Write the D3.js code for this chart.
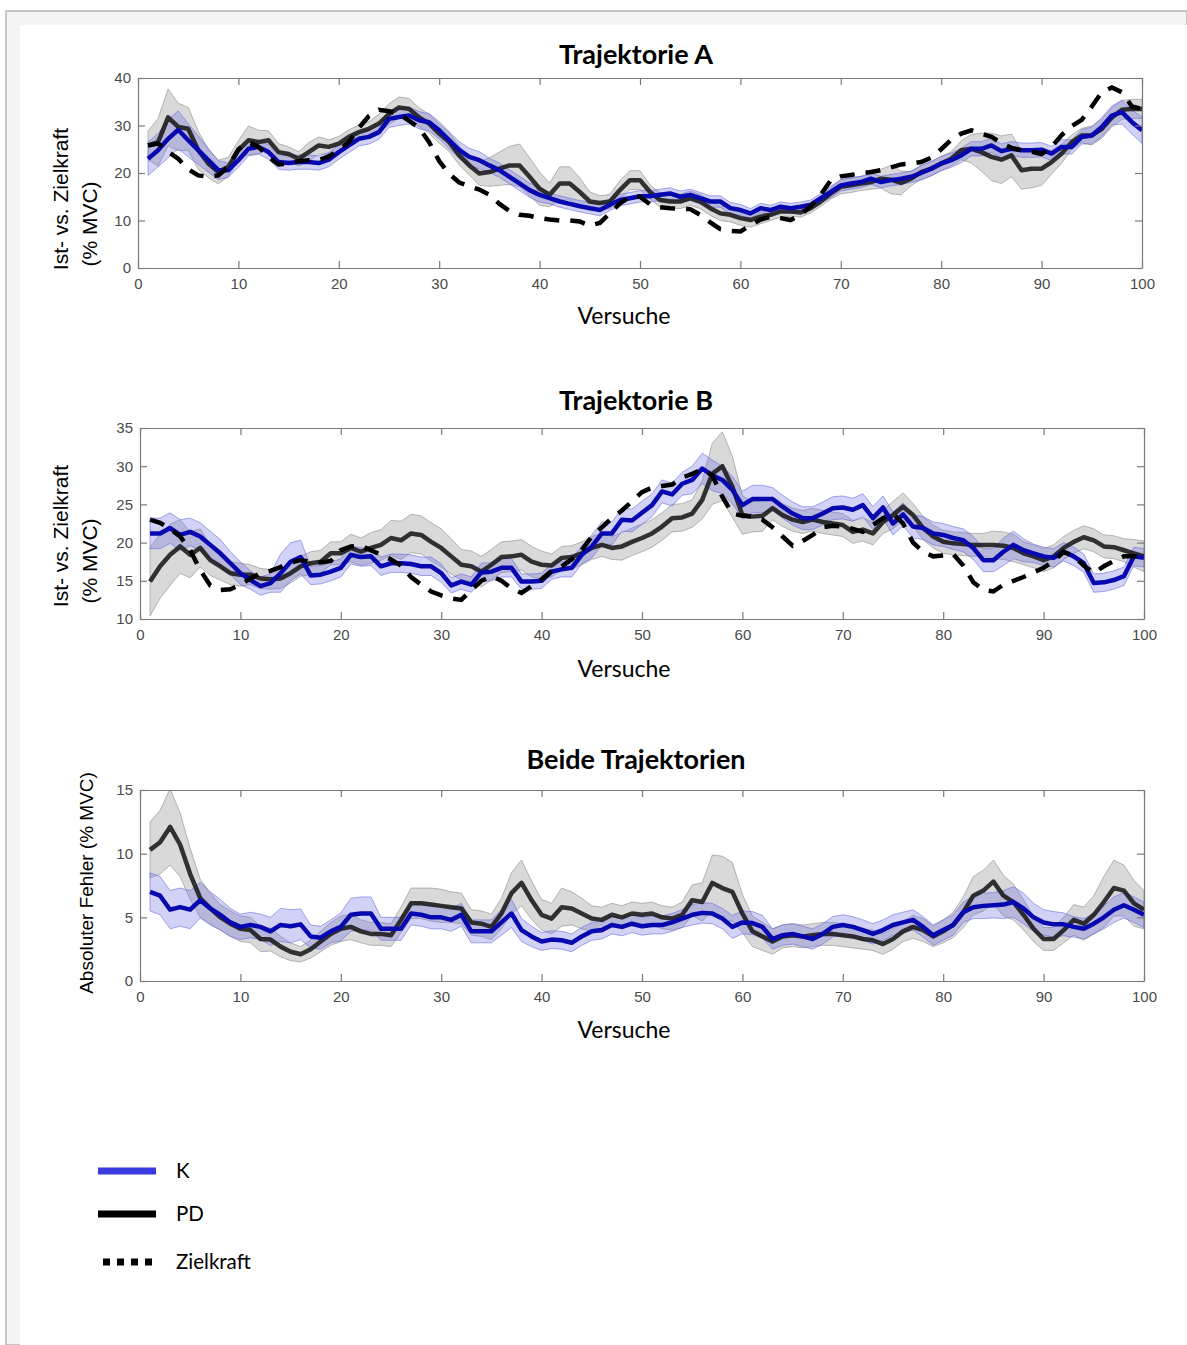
<!DOCTYPE html>
<html>
<head>
<meta charset="utf-8">
<script src="https://cdn.jsdelivr.net/npm/d3@7"></script>
<style>
  body { margin: 0; background: #fff; }
  svg { display: block; }
</style>
</head>
<body>
<div id="chart"></div>
<script>
// Trials 1..100 on the x axis
const trials = d3.range(1, 101);
const xTicks = [0, 10, 20, 30, 40, 50, 60, 70, 80, 90, 100];

// Trajektorie A
const aK = [23, 24.8, 27.2, 29.1, 26.9, 24.8, 22.7, 20.6, 20.6, 22.7,
  25.1, 25.5, 24.4, 22.3, 22.1, 22.3, 22.3, 22.1, 22.8, 24.4,
  25.8, 27.2, 27.6, 28.6, 31.4, 31.8, 32.1, 31.1, 30.7, 29,
  26.9, 24.8, 23.4, 22.7, 21.6, 20.6, 19.2, 17.8, 16.4, 15.4,
  14.7, 14, 13.5, 13, 12.6, 12.2, 13.3, 14.3, 14.7, 15.1,
  15.1, 15.4, 15.7, 15, 15.4, 14.7, 14, 14, 12.6, 12.2,
  11.5, 12.6, 12.2, 12.9, 12.6, 12.9, 13.3, 14.7, 16, 17.4,
  17.8, 18.1, 18.8, 18.1, 18.5, 18.8, 19.2, 20, 20.9, 22,
  22.7, 23.7, 25.1, 25.1, 25.8, 24.6, 25.1, 24.8, 24.8, 24.9,
  24.1, 25.5, 25.5, 27.6, 27.9, 29.7, 32.1, 32.8, 30.7, 29];
const aKsd = [3.5, 3.5, 4, 4, 3.5, 3, 2.5, 2, 1.5, 1.5,
  1.5, 1.5, 1.5, 1.5, 1.5, 1.5, 1.5, 1.5, 1.5, 1.5,
  1.5, 1.5, 1.5, 1.5, 1.8, 1.8, 1.8, 1.8, 1.8, 1.8,
  1.8, 1.8, 1.8, 1.8, 1.5, 1.5, 1.5, 1.5, 1.5, 1.5,
  1.2, 1.2, 1.2, 1.2, 1.2, 1.2, 1.2, 1.2, 1.2, 1.2,
  1.2, 1.2, 1.2, 1.2, 1.2, 1.2, 1.2, 1.2, 1.2, 1.2,
  1, 1, 1, 1, 1, 1, 1, 1, 1.2, 1.2,
  1.2, 1.2, 1.2, 1.2, 1.2, 1.2, 1.2, 1.5, 1.5, 1.5,
  1.5, 1.5, 1.5, 1.5, 1.5, 1.5, 1.5, 1.5, 1.5, 1.5,
  1.5, 1.5, 1.5, 1.5, 1.8, 2, 2, 2.5, 2.5, 2.8];
const aPD = [25.8, 26.5, 31.7, 29.7, 29.3, 24.8, 22, 20.2, 21.3, 24.8,
  26.9, 26.5, 26.9, 24.4, 24, 23, 24.4, 25.8, 25.5, 26.2,
  27.6, 28.6, 29.3, 30.4, 32.4, 33.8, 33.5, 31.7, 30.4, 28.3,
  26.5, 23.7, 21.6, 19.9, 20.2, 20.9, 21.6, 21.6, 19.2, 16.7,
  15.4, 17.8, 17.8, 16, 14, 13.7, 14, 16.4, 18.5, 18.5,
  16, 14.3, 14, 14, 14.7, 14, 12.6, 11.5, 11.2, 10.5,
  10.1, 10.8, 11.2, 11.9, 11.9, 11.7, 12.6, 14, 15.7, 17.1,
  17.4, 17.8, 18.1, 18.8, 18.6, 17.9, 18.8, 20.2, 20.9, 22,
  23, 24.8, 25.1, 24.4, 23.4, 22.8, 23.7, 20.6, 20.9, 20.9,
  22.3, 24.1, 26.5, 27.9, 27.9, 29.3, 31.7, 33.3, 33.5, 33.5];
const aPDsd = [3, 5, 6, 5, 4.5, 4, 3, 2.5, 2, 2,
  3, 2.5, 2, 1.8, 1.5, 1.5, 2, 1.8, 1.5, 1.5,
  1.5, 1.5, 1.5, 2, 2.2, 2.2, 2.2, 2, 2, 2,
  2, 2, 2, 2.5, 3, 3.5, 4, 4.5, 4, 3.5,
  2.5, 3.5, 3.5, 3, 2, 1.5, 1.5, 2, 2, 2,
  1.5, 1.5, 1.5, 1.5, 1.5, 1.5, 1.5, 1.5, 1.5, 1.5,
  1.5, 1.5, 1.2, 1.2, 1, 1, 1, 1, 1.2, 1.5,
  1.5, 1.5, 1.5, 2, 3, 2.5, 1.5, 1.5, 1.5, 1.5,
  1.5, 2, 3, 4, 5, 5, 4.5, 4, 4, 3.5,
  2.5, 2, 1.5, 1.5, 2, 2, 2, 2, 2, 2];
const aZiel = [25.8, 26.2, 24.5, 23, 20.8, 19.5, 19.2, 19.5, 21.3, 25,
  26.5, 25.5, 23.4, 21.8, 22, 22.5, 22.7, 22.7, 23.5, 24.8,
  26.5, 29.5, 32, 33.3, 33, 32.4, 31, 29.5, 26.5, 22.5,
  19.8, 18, 17.2, 16.5, 15.4, 13.5, 12, 11.2, 11, 10.5,
  10.2, 10, 10, 9.8, 8.9, 9.5, 11.5, 13.6, 15, 15,
  13.4, 12.8, 12.6, 12.5, 12.4, 11.2, 9.6, 8.2, 7.8, 7.7,
  9, 10.2, 10.8, 10.5, 10.1, 11.2, 13, 15.4, 18.5, 19.3,
  19.6, 19.9, 20.2, 20.6, 21.2, 21.8, 22, 22.3, 23.2, 25,
  27, 28.3, 29, 28.3, 27.6, 26.3, 25.3, 24.8, 24.5, 24,
  25.5, 28, 29.9, 31.2, 34, 37, 38, 37, 34, 33.5];

// Trajektorie B
const bK = [21.2, 21.2, 21.9, 21, 21.4, 20.8, 19.7, 18.6, 17.3, 16,
  15.1, 14.3, 14.7, 16, 17.5, 18.1, 15.7, 15.8, 16.2, 16.7,
  18.4, 18.1, 18.2, 16.9, 17.3, 17.3, 17.2, 16.9, 16.9, 16,
  14.4, 14.9, 14.5, 16.1, 16.2, 16.7, 16.7, 14.9, 14.9, 15,
  16.2, 16.5, 16.7, 18.4, 19.5, 21.2, 21.2, 23, 22.9, 23.9,
  24.9, 26.7, 26.3, 27.7, 28.2, 29.7, 28.8, 28.2, 26.9, 24.9,
  25.7, 25.7, 25.7, 24.7, 23.8, 23.2, 23.2, 23.8, 24.5, 24.6,
  24.3, 24.9, 23.2, 24.6, 22.5, 23.7, 22.1, 21.9, 21.2, 21,
  20.6, 20.3, 19.3, 17.7, 17.7, 18.8, 19.7, 19, 18.6, 18.2,
  18, 18.8, 18.2, 17.3, 14.7, 14.8, 15.1, 15.6, 18.2, 18];
const bKsd = [2, 2, 2, 2, 1.8, 1.8, 1.8, 1.8, 1.5, 1.5,
  1.2, 1.2, 1.2, 2.5, 2.5, 2.2, 1.2, 1.2, 1.2, 1.2,
  1.2, 1.2, 1.2, 1.2, 1.2, 1.2, 1.2, 1.2, 1.2, 1.2,
  1, 1, 1, 1.2, 1.2, 1.2, 1.2, 1, 1, 1,
  1, 1, 1.2, 1.2, 1.5, 1.5, 1.5, 1.5, 1.5, 1.5,
  1.5, 1.5, 1.5, 1.5, 1.8, 2, 2, 1.8, 1.8, 1.8,
  1.8, 1.8, 1.5, 1.5, 1.5, 1.5, 1.5, 1.5, 1.5, 1.5,
  1.5, 1.5, 1.5, 1.5, 1.5, 1.5, 1.5, 1.5, 1.5, 1.5,
  1.5, 1.5, 1.5, 1.5, 1.5, 1.8, 1.8, 1.5, 1.2, 1.2,
  1.2, 1.2, 1.2, 1.2, 1.2, 1.2, 1.2, 1.2, 1.2, 1.2];
const bPD = [14.9, 16.9, 18.4, 19.5, 18.4, 19.3, 17.7, 16.9, 16, 15.8,
  15.8, 15.3, 15.2, 15.3, 16, 16.9, 17.3, 17.5, 18.6, 18.6,
  19.3, 18.8, 19.3, 19.7, 20.6, 20.3, 21.2, 21, 20.1, 19.3,
  18.2, 17.1, 16.9, 16.2, 17.1, 18.1, 18.2, 18.4, 17.5, 17.1,
  17, 18, 18.1, 18.6, 19.3, 19.7, 19.3, 19.5, 20.1, 20.6,
  21.2, 22.1, 23.2, 23.3, 23.8, 25.6, 29, 30, 27.3, 23.6,
  23.4, 23.5, 24.5, 23.6, 23, 22.7, 23, 22.7, 22.5, 22.3,
  21.4, 21.7, 21.2, 22.7, 23.6, 24.7, 23.6, 21.9, 20.8, 20.1,
  19.9, 19.8, 19.7, 19.7, 19.7, 19.6, 19.3, 18.6, 18.2, 17.7,
  18.2, 19.3, 20.1, 20.7, 20.3, 19.5, 19.4, 19, 18.6, 18.2];
const bPDsd = [4.5, 4.2, 4, 3.5, 3, 2.5, 2, 1.8, 1.5, 1.5,
  1.3, 1.3, 1.3, 1.3, 1.3, 1.3, 1.5, 1.5, 1.5, 1.5,
  1.8, 1.8, 2, 2, 2.3, 2.5, 2.5, 2.5, 2.5, 2.5,
  2.3, 2, 2, 2, 2, 2, 2, 2, 2, 1.8,
  1.5, 1.5, 1.5, 1.5, 1.5, 1.5, 1.5, 1.8, 1.8, 1.8,
  1.8, 1.8, 1.8, 1.8, 1.8, 2.5, 4, 4.5, 4, 2.5,
  2, 2, 1.5, 1.5, 1.5, 1.5, 1.5, 1.5, 1.5, 1.5,
  1.5, 1.5, 1.5, 1.5, 1.8, 1.8, 1.5, 1.5, 1.5, 1.5,
  1.5, 1.5, 1.5, 1.5, 1.8, 1.8, 1.8, 1.5, 1.5, 1.5,
  1.5, 1.5, 1.5, 1.5, 1.5, 1.5, 1.5, 1.5, 1.8, 2];
const bZiel = [23, 22.6, 21.8, 20.8, 19, 16.4, 14.4, 13.8, 13.9, 14.5,
  15.3, 16, 16.3, 16.8, 17.4, 17.7, 17.5, 17.4, 17.6, 19,
  19.5, 19.6, 19, 18.4, 17.8, 17, 15.5, 14.5, 13.6, 13.1,
  12.7, 12.5, 13.8, 15, 15.6, 15, 14, 13.4, 14.3, 15.2,
  16.3, 16.9, 17.8, 19, 20.8, 22, 23.2, 24.2, 25.4, 26.6,
  27.2, 27.4, 27.6, 28.5, 29, 29.6, 28.8, 26, 23.8, 23.5,
  23.4, 23, 22, 20.8, 19.6, 20.2, 21, 22, 22.2, 22.1,
  21.8, 21.4, 22.3, 23.2, 23.8, 22.5, 20, 18.8, 18.2, 18.3,
  18.5, 17, 14.8, 13.8, 13.6, 14.5, 15, 15.5, 16.1, 16.7,
  17.6, 18.8, 18.2, 17, 16, 16.9, 17.6, 18.2, 18.2, 18.2];

// Beide Trajektorien (absolute error)
const cK = [7, 6.7, 5.6, 5.8, 5.6, 6.35, 5.7, 5.2, 4.6, 4.25,
  4.4, 4.25, 3.9, 4.4, 4.3, 4.45, 3.5, 3.4, 3.9, 4.25,
  5.2, 5.3, 5.3, 4.1, 4.1, 4.1, 5.3, 5.2, 5, 5,
  4.8, 5.2, 3.9, 3.9, 3.9, 4.6, 5.3, 4, 3.5, 3.1,
  3.25, 3.2, 3, 3.5, 3.9, 4, 4.4, 4.25, 4.5, 4.3,
  4.4, 4.4, 4.6, 4.9, 5.2, 5.35, 5.3, 4.9, 4.25, 4.6,
  4.55, 4.25, 3.3, 3.6, 3.7, 3.5, 3.3, 3.7, 4.25, 4.4,
  4.25, 4, 3.7, 4, 4.4, 4.6, 4.8, 4.25, 3.6, 4,
  4.4, 5.4, 5.8, 5.9, 5.95, 6, 6.2, 5.7, 5, 4.6,
  4.45, 4.45, 4.25, 4.1, 4.5, 5, 5.6, 5.95, 5.6, 5.2];
const cKsd = [1.5, 1.5, 1.5, 1.5, 1.5, 1.4, 1.3, 1.2, 1.1, 1,
  1, 1, 1.1, 1.3, 1.3, 1.2, 0.9, 0.9, 0.9, 1.1,
  1.3, 1.3, 1.3, 0.9, 0.9, 0.9, 0.9, 0.9, 0.9, 0.9,
  0.9, 0.9, 0.9, 0.9, 0.9, 1, 1.1, 0.9, 0.8, 0.7,
  0.7, 0.7, 0.7, 0.7, 0.7, 0.7, 0.7, 0.7, 0.7, 0.7,
  0.7, 0.7, 0.7, 0.7, 0.8, 0.8, 0.8, 0.8, 0.9, 0.9,
  0.9, 0.9, 0.8, 0.8, 0.8, 0.8, 0.8, 0.8, 0.8, 0.8,
  0.8, 0.8, 0.8, 0.8, 0.8, 0.8, 0.8, 0.8, 0.8, 0.8,
  0.8, 0.8, 0.9, 1, 1, 1.1, 1.2, 1.2, 1.1, 1,
  1, 0.9, 0.8, 0.8, 0.8, 0.9, 1, 1, 1, 1];
const cPD = [10.3, 10.9, 12.1, 10.7, 8.4, 6.5, 5.7, 5, 4.5, 4.1,
  4, 3.3, 3.25, 2.7, 2.3, 2.1, 2.5, 3.1, 3.7, 4.1,
  4.25, 3.9, 3.7, 3.7, 3.6, 4.8, 6.1, 6.1, 6, 5.9,
  5.8, 5.7, 4.6, 4.5, 4.25, 5.3, 6.9, 7.7, 6.35, 5.2,
  4.9, 5.8, 5.7, 5.3, 4.9, 4.8, 5.2, 5, 5.3, 5.2,
  5.3, 5, 4.9, 5.2, 6.35, 6.2, 7.7, 7.3, 7, 5.3,
  3.9, 3.5, 3.1, 3.5, 3.6, 3.5, 3.6, 3.7, 3.7, 3.6,
  3.5, 3.3, 3.2, 2.9, 3.3, 3.9, 4.25, 4, 3.5, 3.9,
  4.4, 5.4, 6.7, 7.1, 7.8, 6.7, 6.2, 5.2, 4.1, 3.3,
  3.3, 4, 4.8, 4.5, 5.2, 6.2, 7.3, 7.1, 6.1, 5.6];
const cPDsd = [2.2, 2.5, 3, 2.5, 2, 1.5, 1.2, 1, 1, 1,
  1, 1, 0.9, 0.8, 0.7, 0.6, 0.7, 0.8, 0.9, 1,
  1, 0.9, 0.9, 0.9, 0.9, 1, 1.2, 1.2, 1.3, 1.3,
  1.2, 1.2, 1, 1, 1, 1.2, 1.6, 1.8, 1.5, 1.2,
  1.2, 1.5, 1.3, 1.2, 1, 1, 0.9, 0.9, 0.9, 0.9,
  0.9, 0.9, 0.9, 1, 1.2, 1.5, 2.2, 2.5, 2.3, 1.5,
  1.2, 1.1, 1, 0.9, 0.9, 0.9, 0.9, 0.9, 0.9, 0.9,
  0.9, 0.8, 0.8, 0.8, 0.8, 0.8, 0.9, 0.9, 0.8, 0.9,
  1, 1.2, 1.5, 1.6, 1.7, 1.6, 1.4, 1.2, 1, 0.9,
  0.9, 1, 1.2, 1.3, 1.5, 2, 2.2, 2, 1.8, 1.5];

const legendLabels = ["K", "PD", "Zielkraft"];

// Colours
const blue = "#0808b0";
const blueBand = "#6b6be0";
const black = "#181818";

const W = 1187, H = 1345;
const svg = d3.select("#chart").append("svg")
    .attr("width", W)
    .attr("height", H);

// Page frame (screenshot border)
svg.append("rect").attr("x", 0).attr("y", 0).attr("width", W).attr("height", H).attr("fill", "#fff");
svg.append("rect").attr("x", 6).attr("y", 11).attr("width", W - 6).attr("height", H - 11)
    .attr("fill", "#f4f4f4").attr("stroke", "#b5b5b5").attr("stroke-width", 1.5);
svg.append("rect").attr("x", 20).attr("y", 25).attr("width", W - 20).attr("height", H - 25).attr("fill", "#fff");

const panels = [
  { title: "Trajektorie A", titleY: 64, left: 138, right: 1142, top: 78, bottom: 268,
    yDomain: [0, 40], yTicks: [0, 10, 20, 30, 40], xLabelY: 324,
    yLabel: ["Ist- vs. Zielkraft", "(% MVC)"], yLabelX: [68, 97], yLabelC: [199, 224], yLabelSize: 21,
    K: aK, Ksd: aKsd, PD: aPD, PDsd: aPDsd, Ziel: aZiel },
  { title: "Trajektorie B", titleY: 410, left: 140, right: 1144, top: 428, bottom: 619,
    yDomain: [10, 35], yTicks: [10, 15, 20, 25, 30, 35], xLabelY: 677,
    yLabel: ["Ist- vs. Zielkraft", "(% MVC)"], yLabelX: [68, 97], yLabelC: [536, 561], yLabelSize: 21,
    K: bK, Ksd: bKsd, PD: bPD, PDsd: bPDsd, Ziel: bZiel },
  { title: "Beide Trajektorien", titleY: 769, left: 140, right: 1144, top: 790, bottom: 981,
    yDomain: [0, 15], yTicks: [0, 5, 10, 15], xLabelY: 1038,
    yLabel: ["Absoluter Fehler (% MVC)"], yLabelX: [93], yLabelC: [883], yLabelSize: 19,
    K: cK, Ksd: cKsd, PD: cPD, PDsd: cPDsd, Ziel: null }
];

panels.forEach((p, pi) => {
  const x = d3.scaleLinear().domain([0, 100]).range([p.left, p.right]);
  const y = d3.scaleLinear().domain(p.yDomain).range([p.bottom, p.top]);

  const clipId = "clip" + pi;
  svg.append("clipPath").attr("id", clipId)
    .append("rect")
    .attr("x", p.left).attr("y", p.top)
    .attr("width", p.right - p.left).attr("height", p.bottom - p.top);

  const g = svg.append("g").attr("clip-path", `url(#${clipId})`);

  const band = (mean, sd) => d3.area()
      .x((d, i) => x(trials[i]))
      .y0((d, i) => y(mean[i] - sd[i]))
      .y1((d, i) => y(mean[i] + sd[i]))(trials);
  const line = vals => d3.line()
      .x((d, i) => x(trials[i]))
      .y((d, i) => y(vals[i]))(trials);

  // Standard deviation bands
  g.append("path").attr("d", band(p.PD, p.PDsd))
    .attr("fill", "#9c9c9c").attr("fill-opacity", 0.38)
    .attr("stroke", "#8a8a8a").attr("stroke-opacity", 0.6).attr("stroke-width", 1);
  g.append("path").attr("d", band(p.K, p.Ksd))
    .attr("fill", blueBand).attr("fill-opacity", 0.3)
    .attr("stroke", blueBand).attr("stroke-opacity", 0.6).attr("stroke-width", 1);

  // Mean lines
  g.append("path").attr("d", line(p.PD))
    .attr("fill", "none").attr("stroke", black).attr("stroke-opacity", 0.88)
    .attr("stroke-width", 4.5).attr("stroke-linejoin", "round");
  g.append("path").attr("d", line(p.K))
    .attr("fill", "none").attr("stroke", blue)
    .attr("stroke-width", 4.5).attr("stroke-linejoin", "round");

  if (p.Ziel) {
    g.append("path").attr("d", line(p.Ziel))
      .attr("fill", "none").attr("stroke", "#000")
      .attr("stroke-width", 4.5).attr("stroke-dasharray", "15,11");
  }

  // Axes box with inward ticks
  const axisStyle = sel => {
    sel.selectAll(".domain").attr("stroke", "#7a7a7a").attr("stroke-width", 1.2);
    sel.selectAll(".tick line").attr("stroke", "#7a7a7a").attr("stroke-width", 1.2);
    sel.selectAll(".tick text").attr("fill", "#4a4a4a")
      .style("font-family", "'Liberation Sans', Arial, sans-serif").style("font-size", "15px");
  };
  svg.append("g").attr("transform", `translate(0,${p.bottom})`)
    .call(d3.axisBottom(x).tickValues(xTicks).tickSizeInner(-7).tickSizeOuter(0).tickPadding(10))
    .call(axisStyle);
  svg.append("g").attr("transform", `translate(0,${p.top})`)
    .call(d3.axisTop(x).tickValues(xTicks).tickSizeInner(-7).tickSizeOuter(0).tickFormat(""))
    .call(axisStyle);
  svg.append("g").attr("transform", `translate(${p.left},0)`)
    .call(d3.axisLeft(y).tickValues(p.yTicks).tickSizeInner(-7).tickSizeOuter(0).tickPadding(7))
    .call(axisStyle);
  svg.append("g").attr("transform", `translate(${p.right},0)`)
    .call(d3.axisRight(y).tickValues(p.yTicks).tickSizeInner(-7).tickSizeOuter(0).tickFormat(""))
    .call(axisStyle);

  // Title
  svg.append("text")
    .attr("x", 636).attr("y", p.titleY)
    .attr("text-anchor", "middle")
    .style("font-family", "Lato, 'Open Sans', sans-serif")
    .style("font-size", "27px").style("font-weight", "bold")
    .text(p.title);

  // X axis label
  svg.append("text")
    .attr("x", 624).attr("y", p.xLabelY)
    .attr("text-anchor", "middle")
    .style("font-family", "Lato, 'Open Sans', sans-serif")
    .style("font-size", "23px")
    .text("Versuche");

  // Y axis label
  p.yLabel.forEach((t, i) => {
    svg.append("text")
      .attr("transform", `translate(${p.yLabelX[i]},${p.yLabelC[i]}) rotate(-90)`)
      .attr("text-anchor", "middle")
      .style("font-family", "'Liberation Sans', Arial, sans-serif")
      .style("font-size", p.yLabelSize + "px")
      .text(t);
  });
});

// Legend
const legend = svg.append("g");
const legendY = [1171, 1214, 1262];
legend.append("line").attr("x1", 98).attr("x2", 156).attr("y1", legendY[0]).attr("y2", legendY[0])
  .attr("stroke", "#3a3ae0").attr("stroke-width", 7);
legend.append("line").attr("x1", 98).attr("x2", 156).attr("y1", legendY[1]).attr("y2", legendY[1])
  .attr("stroke", "#000").attr("stroke-width", 7);
legend.append("line").attr("x1", 103).attr("x2", 158).attr("y1", legendY[2]).attr("y2", legendY[2])
  .attr("stroke", "#000").attr("stroke-width", 7).attr("stroke-dasharray", "7,7");
legendLabels.forEach((t, i) => {
  legend.append("text")
    .attr("x", 176).attr("y", legendY[i] + 7)
    .style("font-family", "Lato, 'Open Sans', sans-serif")
    .style("font-size", "20.5px")
    .text(t);
});
</script>
</body>
</html>
